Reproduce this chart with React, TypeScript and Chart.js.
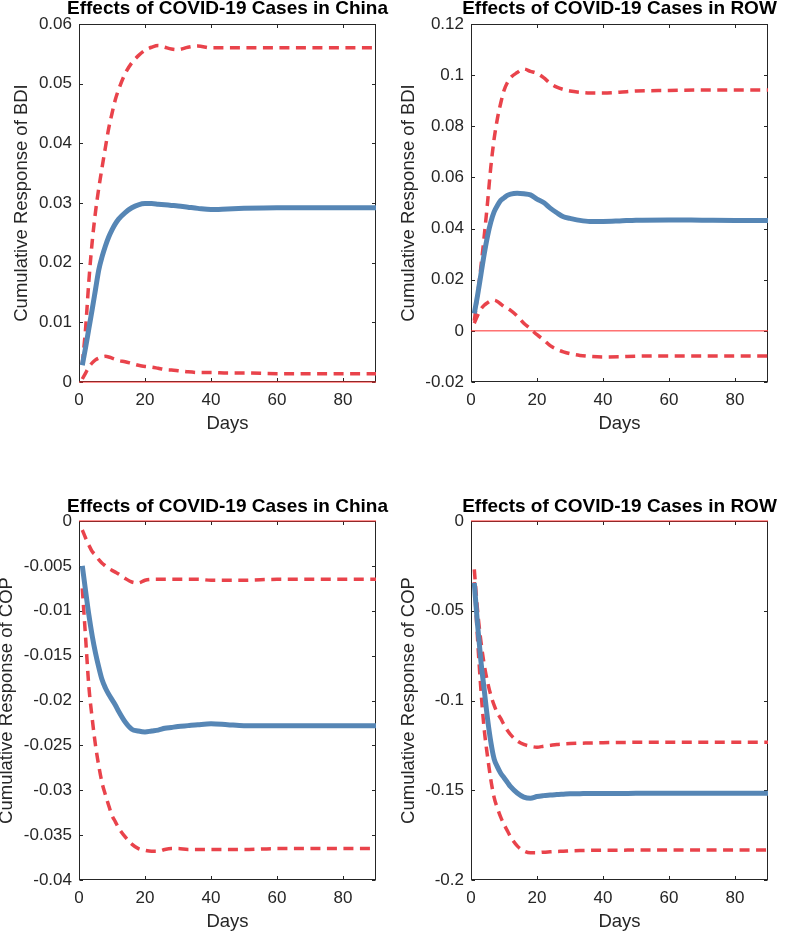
import React, { useEffect, useRef } from "react";
import { Chart, registerables } from "chart.js";

Chart.register(...registerables);

// ---------------- data ----------------
const DAYS = [1, 2, 3, 4, 5, 6, 7, 8, 9, 10, 11, 12, 14, 16, 18, 20, 22, 24, 26, 28, 30, 33, 36, 40, 45, 50, 60, 70, 80, 90];
const X_TICKS = [0, 20, 40, 60, 80];

const TITLE_CHINA = "Effects of COVID-19 Cases in China";
const TITLE_ROW = "Effects of COVID-19 Cases in ROW";
const X_LABEL = "Days";
const Y_LABEL_BDI = "Cumulative Response of BDI";
const Y_LABEL_COP = "Cumulative Response of COP";

// Panel 1: BDI response to China cases
const BDI_CHINA_RESP = [0.0028, 0.0058, 0.009, 0.0122, 0.0155, 0.0188, 0.021, 0.0228, 0.0243, 0.0255, 0.0265, 0.0273, 0.0284, 0.0292, 0.0297, 0.0299, 0.0299, 0.0298, 0.0297, 0.0296, 0.0295, 0.0293, 0.0291, 0.0289, 0.029, 0.0291, 0.0292, 0.0292, 0.0292, 0.0292];
const BDI_CHINA_UPPER = [0.003, 0.009, 0.017, 0.0235, 0.0285, 0.0325, 0.036, 0.0393, 0.0425, 0.045, 0.0473, 0.049, 0.0517, 0.0535, 0.0547, 0.0556, 0.0561, 0.0564, 0.0561, 0.0558, 0.0557, 0.0561, 0.0563, 0.056, 0.056, 0.056, 0.056, 0.056, 0.056, 0.056];
const BDI_CHINA_LOWER = [0.0005, 0.0015, 0.0025, 0.0032, 0.0037, 0.004, 0.0042, 0.0043, 0.0042, 0.004, 0.0038, 0.0036, 0.0034, 0.0031, 0.0028, 0.0026, 0.0025, 0.0023, 0.0021, 0.002, 0.0019, 0.0017, 0.0016, 0.0016, 0.0015, 0.0015, 0.0014, 0.0014, 0.0014, 0.0014];
const Y_TICKS_BDI_CHINA = [0, 0.01, 0.02, 0.03, 0.04, 0.05, 0.06];

// Panel 2: BDI response to ROW cases
const BDI_ROW_RESP = [0.0068, 0.014, 0.022, 0.03, 0.037, 0.0425, 0.0465, 0.049, 0.051, 0.052, 0.053, 0.0535, 0.0538, 0.0536, 0.0532, 0.0515, 0.0502, 0.048, 0.0462, 0.0446, 0.044, 0.0432, 0.0428, 0.0428, 0.043, 0.0433, 0.0434, 0.0433, 0.0432, 0.0432];
const BDI_ROW_UPPER = [0.004, 0.014, 0.025, 0.037, 0.05, 0.064, 0.075, 0.083, 0.089, 0.094, 0.097, 0.099, 0.101, 0.1024, 0.1015, 0.1007, 0.099, 0.0968, 0.0953, 0.0944, 0.0938, 0.0933, 0.093, 0.093, 0.0933, 0.0938, 0.094, 0.0942, 0.0942, 0.0942];
const BDI_ROW_LOWER = [0.003, 0.006, 0.0085, 0.01, 0.011, 0.0118, 0.012, 0.0115, 0.0105, 0.0095, 0.0088, 0.008, 0.0058, 0.003, 0.0008, -0.0015, -0.0035, -0.0058, -0.0072, -0.0082, -0.0089, -0.0096, -0.01, -0.0102, -0.0101, -0.0099, -0.0098, -0.0098, -0.0098, -0.0098];
const Y_TICKS_BDI_ROW = [-0.02, 0, 0.02, 0.04, 0.06, 0.08, 0.1, 0.12];

// Panel 3: COP response to China cases
const COP_CHINA_RESP = [-0.005, -0.0078, -0.0105, -0.0128, -0.0147, -0.0163, -0.0177, -0.0186, -0.0193, -0.0199, -0.0205, -0.0212, -0.0224, -0.0232, -0.0234, -0.0235, -0.0234, -0.0233, -0.0231, -0.023, -0.0229, -0.0228, -0.0227, -0.0226, -0.0227, -0.0228, -0.0228, -0.0228, -0.0228, -0.0228];
const COP_CHINA_UPPER = [-0.001, -0.0019, -0.0027, -0.0034, -0.0038, -0.0043, -0.0047, -0.005, -0.0053, -0.0055, -0.0057, -0.0059, -0.0064, -0.0068, -0.0069, -0.0066, -0.0065, -0.0065, -0.0065, -0.0065, -0.0065, -0.0065, -0.0065, -0.0066, -0.0066, -0.0066, -0.0065, -0.0065, -0.0065, -0.0065];
const COP_CHINA_LOWER = [-0.0075, -0.013, -0.0185, -0.022, -0.025, -0.0273, -0.0292, -0.0305, -0.0317, -0.0328, -0.0335, -0.0342, -0.0352, -0.036, -0.0365, -0.0367, -0.0368, -0.0368, -0.0366, -0.0365, -0.0365, -0.0366, -0.0366, -0.0366, -0.0366, -0.0366, -0.0365, -0.0365, -0.0365, -0.0365];
const Y_TICKS_COP_CHINA = [-0.04, -0.035, -0.03, -0.025, -0.02, -0.015, -0.01, -0.005, 0];

// Panel 4: COP response to ROW cases
const COP_ROW_RESP = [-0.0345, -0.058, -0.078, -0.094, -0.11, -0.123, -0.1325, -0.137, -0.1405, -0.143, -0.1455, -0.148, -0.1515, -0.1538, -0.1545, -0.1535, -0.153, -0.1527, -0.1524, -0.1522, -0.152, -0.1519, -0.1518, -0.1518, -0.1518, -0.1517, -0.1517, -0.1517, -0.1517, -0.1517];
const COP_ROW_UPPER = [-0.027, -0.05, -0.067, -0.08, -0.0896, -0.097, -0.1026, -0.107, -0.11, -0.1135, -0.1166, -0.119, -0.1225, -0.1245, -0.1255, -0.126, -0.1255, -0.125, -0.1245, -0.1242, -0.124, -0.1238, -0.1237, -0.1235, -0.1234, -0.1233, -0.1232, -0.1232, -0.1232, -0.1232];
const COP_ROW_LOWER = [-0.034, -0.066, -0.094, -0.116, -0.131, -0.144, -0.154, -0.16, -0.165, -0.169, -0.1725, -0.176, -0.181, -0.1838, -0.1848, -0.1848, -0.1845, -0.1843, -0.1841, -0.184, -0.1838, -0.1836, -0.1835, -0.1834, -0.1834, -0.1833, -0.1833, -0.1833, -0.1833, -0.1833];
const Y_TICKS_COP_ROW = [-0.2, -0.15, -0.1, -0.05, 0];

const ZERO_LINE = [0, 0];
const ZERO_DAYS = [0, 90];

// ---------------- styles ----------------
const FONT = "'Liberation Sans', Arial, Helvetica, sans-serif";
const BLUE = "#5686b5";
const RED_DASH = "#e9434b";
const RED_ZERO = "#ff2a2a";
const AXIS = "#262626";

const framePlugin = {
  id: "matlabFrame",
  beforeDatasetsDraw(chart: any) {
    const { ctx, chartArea: a, scales } = chart;
    const xs = scales.x;
    const ys = scales.y;
    ctx.save();
    ctx.strokeStyle = AXIS;
    ctx.lineWidth = 1;
    const L = Math.round(a.left) + 0.5;
    const R = Math.round(a.right) - 0.5;
    const T = Math.round(a.top) + 0.5;
    const B = Math.round(a.bottom) - 0.5;
    ctx.strokeRect(L, T, R - L, B - T);
    const tl = 3.5;
    ctx.beginPath();
    for (const v of X_TICKS) {
      const px = Math.round(xs.getPixelForValue(v)) + 0.5;
      ctx.moveTo(px, B);
      ctx.lineTo(px, B - tl);
      ctx.moveTo(px, T);
      ctx.lineTo(px, T + tl);
    }
    for (const t of ys.ticks) {
      const py = Math.round(ys.getPixelForValue(t.value)) + 0.5;
      ctx.moveTo(L, py);
      ctx.lineTo(L + tl, py);
      ctx.moveTo(R, py);
      ctx.lineTo(R - tl, py);
    }
    ctx.stroke();
    ctx.restore();
  },
};

type PanelProps = {
  title: string;
  yLabel: string;
  resp: number[];
  upper: number[];
  lower: number[];
  yTicks: number[];
  canvasLeft: number;
  canvasTop: number;
  canvasH: number;
  plot: { L: number; R: number; T: number; B: number };
  titleMid: number;
  xLabelMid: number;
  yLabelX: number;
};

function Panel(p: PanelProps) {
  const ref = useRef<HTMLCanvasElement | null>(null);
  const center = (p.plot.L + p.plot.R) / 2;
  const canvasW = Math.round(2 * (center - p.canvasLeft));

  useEffect(() => {
    if (!ref.current) return;
    const relT = p.plot.T - p.canvasTop;
    const relB = p.plot.B - p.canvasTop;
    const titleLH = 16;
    const padTop = p.titleMid - p.canvasTop - titleLH / 2;
    const titlePadBottom = relT - padTop - titleLH;
    const yAxisW = p.plot.L - p.canvasLeft;
    const rightW = canvasW - (p.plot.R - p.canvasLeft);
    const xAxisH = p.canvasH - relB;
    const xTitleLH = 20;
    const xTitlePadBottom = p.canvasH - (p.xLabelMid - p.canvasTop) - xTitleLH / 2;
    const yTitleLH = 2 * (p.yLabelX - p.canvasLeft);

    const pts = (arr: number[], xs: number[]) => arr.map((v, i) => ({ x: xs[i], y: v }));

    const chart = new Chart(ref.current, {
      type: "line",
      data: {
        datasets: [
          {
            label: "response",
            data: pts(p.resp, DAYS),
            borderColor: BLUE,
            borderWidth: 5,
            pointRadius: 0,
            cubicInterpolationMode: "monotone",
            borderCapStyle: "butt",
            borderJoinStyle: "round",
            clip: 6,
          },
          {
            label: "upper",
            data: pts(p.upper, DAYS),
            borderColor: RED_DASH,
            borderWidth: 3.5,
            borderDash: [10, 6.5],
            pointRadius: 0,
            cubicInterpolationMode: "monotone",
            clip: 6,
          },
          {
            label: "lower",
            data: pts(p.lower, DAYS),
            borderColor: RED_DASH,
            borderWidth: 3.5,
            borderDash: [10, 6.5],
            pointRadius: 0,
            cubicInterpolationMode: "monotone",
            clip: 6,
          },
          {
            label: "zero",
            data: pts(ZERO_LINE, ZERO_DAYS),
            borderColor: RED_ZERO,
            borderWidth: 1,
            pointRadius: 0,
            clip: false,
          },
        ],
      } as any,
      options: {
        animation: false,
        responsive: false,
        devicePixelRatio: 1,
        events: [],
        layout: { padding: { top: padTop, left: 0, right: 0, bottom: 0 } },
        plugins: {
          legend: { display: false },
          tooltip: { enabled: false },
          title: {
            display: true,
            text: p.title,
            color: "#000000",
            font: { family: FONT, size: 19, weight: "bold", lineHeight: `${titleLH}px` },
            padding: { top: 0, bottom: titlePadBottom },
          },
        },
        scales: {
          x: {
            type: "linear",
            min: 0,
            max: 90,
            grid: { display: false, drawTicks: false },
            border: { display: false },
            afterBuildTicks: (s: any) => {
              s.ticks = X_TICKS.map((v) => ({ value: v }));
            },
            afterFit: (s: any) => {
              s.height = xAxisH;
            },
            ticks: {
              color: AXIS,
              padding: 8,
              maxRotation: 0,
              autoSkip: false,
              font: { family: FONT, size: 17 },
              callback: (v: any) => String(v),
            },
            title: {
              display: true,
              text: X_LABEL,
              color: AXIS,
              font: { family: FONT, size: 18.5, lineHeight: `${xTitleLH}px` },
              padding: { top: 0, bottom: xTitlePadBottom },
            },
          },
          y: {
            type: "linear",
            position: "left",
            min: p.yTicks[0],
            max: p.yTicks[p.yTicks.length - 1],
            grid: { display: false, drawTicks: false },
            border: { display: false },
            afterBuildTicks: (s: any) => {
              s.ticks = p.yTicks.map((v) => ({ value: v }));
            },
            afterFit: (s: any) => {
              s.width = yAxisW;
            },
            ticks: {
              color: AXIS,
              padding: 7,
              autoSkip: false,
              font: { family: FONT, size: 17 },
              callback: (v: any) => String(v),
            },
            title: {
              display: true,
              text: p.yLabel,
              color: AXIS,
              font: { family: FONT, size: 18.5, lineHeight: `${yTitleLH}px` },
              padding: 0,
            },
          },
          // empty spacer on the right so the title centres over the plot box
          yRight: {
            type: "linear",
            position: "right",
            display: true,
            grid: { display: false, drawTicks: false },
            border: { display: false },
            ticks: { display: false },
            afterFit: (s: any) => {
              s.width = rightW;
            },
          },
        },
      } as any,
      plugins: [framePlugin],
    });
    return () => chart.destroy();
  }, []);

  return (
    <canvas
      ref={ref}
      width={canvasW}
      height={p.canvasH}
      style={{ position: "absolute", left: p.canvasLeft, top: p.canvasTop, width: canvasW, height: p.canvasH }}
    />
  );
}

export default function App() {
  return (
    <div style={{ position: "absolute", left: 0, top: 0, width: 787, height: 934, overflow: "hidden", background: "#ffffff" }}>
      <Panel
        title={TITLE_CHINA}
        yLabel={Y_LABEL_BDI}
        resp={BDI_CHINA_RESP}
        upper={BDI_CHINA_UPPER}
        lower={BDI_CHINA_LOWER}
        yTicks={Y_TICKS_BDI_CHINA}
        canvasLeft={0}
        canvasTop={0}
        canvasH={465}
        plot={{ L: 79, R: 376, T: 24, B: 382 }}
        titleMid={8.5}
        xLabelMid={423.5}
        yLabelX={21.7}
      />
      <Panel
        title={TITLE_ROW}
        yLabel={Y_LABEL_BDI}
        resp={BDI_ROW_RESP}
        upper={BDI_ROW_UPPER}
        lower={BDI_ROW_LOWER}
        yTicks={Y_TICKS_BDI_ROW}
        canvasLeft={387}
        canvasTop={0}
        canvasH={465}
        plot={{ L: 471, R: 768, T: 24, B: 382 }}
        titleMid={8.5}
        xLabelMid={423.5}
        yLabelX={408.7}
      />
      <Panel
        title={TITLE_CHINA}
        yLabel={Y_LABEL_COP}
        resp={COP_CHINA_RESP}
        upper={COP_CHINA_UPPER}
        lower={COP_CHINA_LOWER}
        yTicks={Y_TICKS_COP_CHINA}
        canvasLeft={0}
        canvasTop={465}
        canvasH={469}
        plot={{ L: 79, R: 376, T: 521, B: 880 }}
        titleMid={506.5}
        xLabelMid={921.5}
        yLabelX={6.7}
      />
      <Panel
        title={TITLE_ROW}
        yLabel={Y_LABEL_COP}
        resp={COP_ROW_RESP}
        upper={COP_ROW_UPPER}
        lower={COP_ROW_LOWER}
        yTicks={Y_TICKS_COP_ROW}
        canvasLeft={387}
        canvasTop={465}
        canvasH={469}
        plot={{ L: 471, R: 768, T: 521, B: 880 }}
        titleMid={506.5}
        xLabelMid={921.5}
        yLabelX={408.7}
      />
    </div>
  );
}
